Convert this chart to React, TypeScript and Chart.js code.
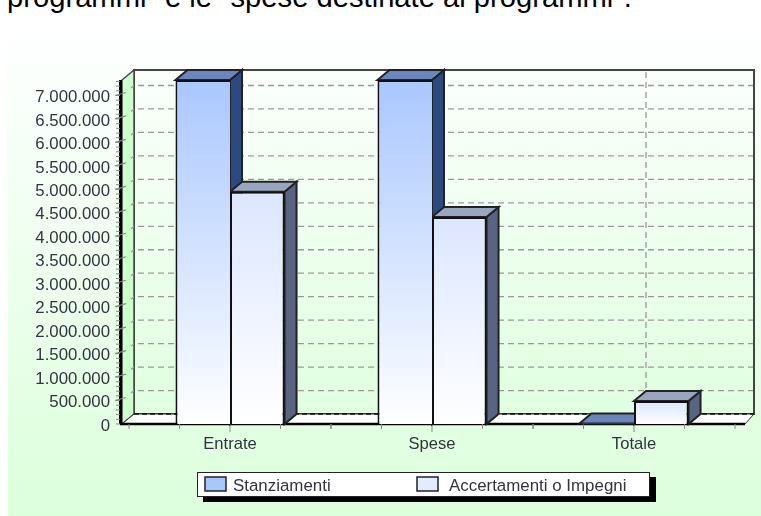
import React, { useEffect, useRef } from "react";
import { Chart, registerables } from "chart.js";

Chart.register(...registerables);

const categories = ["Entrate", "Spese", "Totale"];
const stanziamenti = [7330000, 7330000, 10000];
const accertamenti = [4950000, 4410000, 490000];
const seriesNames = ["Stanziamenti", "Accertamenti o Impegni"];
const yTickValues = [0, 500000, 1000000, 1500000, 2000000, 2500000, 3000000, 3500000, 4000000, 4500000, 5000000, 5500000, 6000000, 6500000, 7000000];
const yMax = 7330000;
const yStep = 500000;
const FONT = "16.9px 'Liberation Sans', Arial, sans-serif";
const TEXT = "#33333f";
const DX = 12;
const DY = -10;
const LEFT = 122;
const RIGHT = 745;

const fmt = (v: number) => String(v).replace(/\B(?=(\d{3})+$)/g, ".");

const faces = [
  { top: "#6a86bd", side: "#2b4a80", grad: "#a9c7ff", swatch: "#a9c7ff" },
  { top: "#9aa5c0", side: "#596482", grad: "#dce6ff", swatch: "#e4ebff" },
];

function poly(ctx: CanvasRenderingContext2D, pts: number[][], fill: string | CanvasGradient, stroke = "#222", lw = 2) {
  ctx.beginPath();
  pts.forEach((p, i) => (i ? ctx.lineTo(p[0], p[1]) : ctx.moveTo(p[0], p[1])));
  ctx.closePath();
  ctx.fillStyle = fill;
  ctx.fill();
  if (lw > 0) {
    ctx.strokeStyle = stroke;
    ctx.lineWidth = lw;
    ctx.stroke();
  }
}

function line(ctx: CanvasRenderingContext2D, x1: number, y1: number, x2: number, y2: number, color: string, lw: number, dash: number[] = []) {
  ctx.save();
  ctx.beginPath();
  ctx.setLineDash(dash);
  ctx.moveTo(x1, y1);
  ctx.lineTo(x2, y2);
  ctx.strokeStyle = color;
  ctx.lineWidth = lw;
  ctx.stroke();
  ctx.restore();
}

const scene = {
  id: "scene",
  beforeDraw(chart: any) {
    const { ctx } = chart;
    const g = ctx.createLinearGradient(0, 33, 0, 516);
    g.addColorStop(0, "#feffff");
    g.addColorStop(1, "#dcffdc");
    ctx.fillStyle = g;
    ctx.fillRect(8, 33, 753, 483);
  },
  beforeDatasetsDraw(chart: any) {
    const { ctx, chartArea, scales } = chart;
    const { top, bottom } = chartArea;
    const y = scales.y;
    const x = scales.x;
    // back wall
    const wall = ctx.createLinearGradient(0, top + DY, 0, bottom + DY);
    wall.addColorStop(0, "#fbfffb");
    wall.addColorStop(1, "#e0ffe0");
    poly(ctx, [[LEFT + DX, top + DY], [RIGHT + 9, top + DY], [RIGHT + 9, bottom + DY], [LEFT + DX, bottom + DY]], wall, "#444", 2);
    // left wall
    poly(ctx, [[LEFT, top], [LEFT + DX, top + DY], [LEFT + DX, bottom + DY], [LEFT, bottom]], "#ccffcc", "#444", 1.5);
    // floor
    poly(ctx, [[LEFT, bottom], [LEFT + DX, bottom + DY], [RIGHT + 9, bottom + DY], [RIGHT, bottom]], "#ffffff", "#333", 1);
    line(ctx, LEFT + DX, bottom + DY, RIGHT + 9, bottom + DY, "#111", 1.5, [5, 3]);
    line(ctx, LEFT - 2, bottom, RIGHT, bottom, "#000", 2.4);
    line(ctx, LEFT - 1.5, top, LEFT - 1.5, bottom, "#000", 3);
    // grid
    y.ticks.forEach((t: any) => {
      if (t.value === 0) return;
      const p = y.getPixelForValue(t.value);
      line(ctx, LEFT + DX - 3, p + DY + 2.5, LEFT + DX, p + DY, "#999", 1.2);
      line(ctx, LEFT + DX + 4, p + DY, RIGHT + 8, p + DY, "#999", 1.3, [6, 4]);
      line(ctx, LEFT - 7, p, LEFT + 4, p - 3, "#888", 1.2);
    });
    for (let v = 0; v <= yMax; v += yStep / 5) {
      const p = y.getPixelForValue(v);
      line(ctx, LEFT - 6, p, LEFT - 2, p, "#888", 1);
    }
    const step = x.getPixelForValue(1) - x.getPixelForValue(0);
    categories.forEach((_, i) => {
      const c = x.getPixelForValue(i);
      line(ctx, c + DX, top + DY + 2, c + DX, bottom + DY, "#999", 1.3, [6, 4]);
      [-0.5, -0.25, 0, 0.25, 0.5].forEach((f) => {
        line(ctx, c + f * step, bottom, c + f * step, bottom + (f === 0 ? 8 : 5), "#888", 1);
      });
    });
    // side and top faces
    chart.data.datasets.forEach((_: any, di: number) => {
      chart.getDatasetMeta(di).data.forEach((el: any) => {
        const l = el.x - el.width / 2;
        const r = el.x + el.width / 2;
        poly(ctx, [[r, el.y], [r + DX, el.y + DY], [r + DX, el.base + DY], [r, el.base]], faces[di].side);
        poly(ctx, [[l, el.y], [l + DX, el.y + DY], [r + DX, el.y + DY], [r, el.y]], faces[di].top);
      });
    });
  },
  afterDraw(chart: any) {
    const { ctx } = chart;
    ctx.save();
    ctx.fillStyle = "#000";
    ctx.fillRect(203, 477, 453, 25);
    ctx.fillStyle = "#fff";
    ctx.fillRect(197, 472, 453, 25);
    ctx.strokeStyle = "#222";
    ctx.lineWidth = 1;
    ctx.strokeRect(197.5, 472.5, 452, 24);
    const swatchX = [205, 417];
    const textX = [233, 449];
    chart.data.datasets.forEach((d: any, i: number) => {
      ctx.fillStyle = faces[i].swatch;
      ctx.fillRect(swatchX[i], 477, 21, 14);
      ctx.strokeStyle = "#222";
      ctx.lineWidth = 1.5;
      ctx.strokeRect(swatchX[i], 477, 21, 14);
      ctx.fillStyle = TEXT;
      ctx.font = FONT;
      ctx.textBaseline = "middle";
      ctx.textAlign = "left";
      ctx.fillText(d.label, textX[i], 486);
    });
    ctx.restore();
  },
};

function barFill(di: number) {
  return (c: any) => {
    const { chart, parsed } = c;
    if (!chart.chartArea || !parsed) return faces[di].grad;
    const y = chart.scales.y;
    const g = chart.ctx.createLinearGradient(0, y.getPixelForValue(parsed.y), 0, y.getPixelForValue(0));
    g.addColorStop(0, faces[di].grad);
    g.addColorStop(1, "#ffffff");
    return g;
  };
}

export default function App() {
  const ref = useRef<HTMLCanvasElement>(null);
  useEffect(() => {
    const chart = new Chart(ref.current!, {
      type: "bar",
      plugins: [scene],
      data: {
        labels: categories,
        datasets: [
          { label: seriesNames[0], data: stanziamenti, backgroundColor: barFill(0), borderColor: "#111", borderWidth: { left: 2, top: 2, bottom: 2, right: 0 }, clip: false },
          { label: seriesNames[1], data: accertamenti, backgroundColor: barFill(1), borderColor: "#111", borderWidth: 2, clip: false },
        ],
      } as any,
      options: {
        responsive: false,
        animation: false,
        layout: { padding: { left: 0, right: 26, top: 80, bottom: 0 } },
        plugins: { legend: { display: false }, title: { display: false }, tooltip: { enabled: false } },
        datasets: { bar: { barPercentage: 1, categoryPercentage: 0.54 } },
        scales: {
          x: {
            grid: { display: false, drawTicks: false },
            border: { display: false },
            afterFit: (s: any) => { s.height = 92; },
            ticks: { padding: 10, color: TEXT, font: { family: "'Liberation Sans', Arial, sans-serif", size: 16.6 } },
          },
          y: {
            min: 0,
            max: yMax,
            grid: { display: false, drawTicks: false },
            border: { display: false },
            afterFit: (s: any) => { s.width = 129; },
            afterBuildTicks: (s: any) => { s.ticks = yTickValues.map((value) => ({ value })); },
            ticks: { padding: 19, labelOffset: 2, autoSkip: false, color: TEXT, callback: (v: any) => fmt(Number(v)), font: { family: "'Liberation Sans', Arial, sans-serif", size: 16.8 } },
          },
        },
      } as any,
    });
    return () => chart.destroy();
  }, []);
  return (
    <div style={{ position: "fixed", left: 0, top: 0, width: 761, height: 516, overflow: "hidden", background: "#fff" }}>
      <div style={{ position: "absolute", left: 7, top: -20, whiteSpace: "pre", font: "29.2px/34px 'Liberation Sans', Arial, sans-serif", color: "#000" }}>
        {'programmi" e le "spese destinate ai programmi".'}
      </div>
      <canvas ref={ref} width={761} height={516} style={{ position: "absolute", left: 0, top: 0, width: 761, height: 516, pointerEvents: "none" }} />
    </div>
  );
}
